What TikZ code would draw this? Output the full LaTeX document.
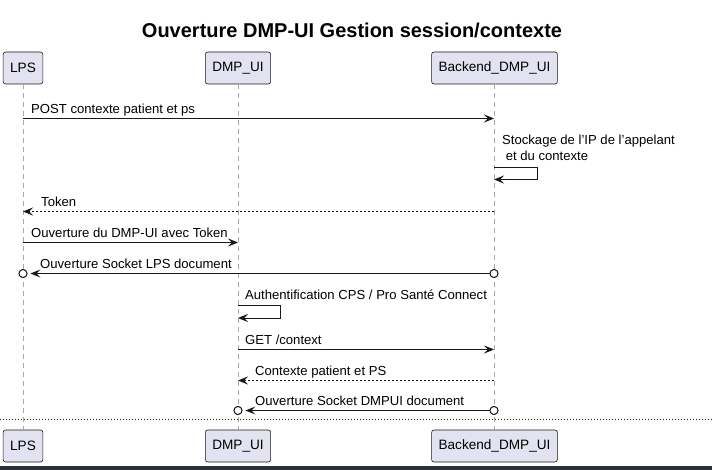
\documentclass[tikz,border=0pt]{standalone}
\usepackage{fontspec}
\setmainfont{Liberation Sans}
\usetikzlibrary{arrows.meta}
\definecolor{partfill}{HTML}{E2E2F0}
\definecolor{ink}{HTML}{181818}
\definecolor{lifegray}{HTML}{A8A8A8}
\definecolor{barcol}{HTML}{263238}
\newcommand{\sq}{{\char39}}
\tikzset{
  part/.style={draw=ink, fill=partfill, rounded corners=2.5pt, line width=0.6pt,
    minimum height=32pt, inner xsep=7pt, inner ysep=0pt,
    font=\fontsize{13.6}{16}\selectfont, text=black},
  life/.style={draw=lifegray, line width=0.8pt, dash pattern=on 5pt off 4pt},
  msg/.style={draw=ink, line width=0.9pt, -{Stealth[length=10pt,width=8pt,inset=4pt]}},
  rmsg/.style={msg, dash pattern=on 2pt off 2pt},
  lbl/.style={anchor=base west, inner sep=0pt, font=\fontsize{13.1}{15.5}\selectfont, text=black},
  sock/.style={circle, draw=ink, fill=white, line width=0.9pt, minimum size=8pt, inner sep=0pt},
  sep/.style={draw=ink, line width=1.2pt, dash pattern=on 1.3pt off 1.7pt}
}
\begin{document}
\begin{tikzpicture}[x=1pt,y=-1pt]
\useasboundingbox (0,0) rectangle (712,470);
\fill[white] (0,0) rectangle (712,470);
\fill[barcol] (0,466) rectangle (712,470);

% title
\node[font=\fontsize{20}{24}\selectfont\bfseries] (title) at (352,30) {Ouverture DMP-UI Gestion session/contexte};

% participants
\node[part] (lpsT) at (23,68) {LPS};
\node[part] (dmpT) at (238,68) {DMP\_UI};
\node[part] (beT) at (494.5,68) {Backend\_DMP\_UI};
\node[part] (lpsB) at (23,446) {LPS};
\node[part] (dmpB) at (238,446) {DMP\_UI};
\node[part] (beB) at (494.5,446) {Backend\_DMP\_UI};

% lifelines
\draw[life] (lpsT.south) -- (lpsB.north);
\draw[life] (dmpT.south) -- (dmpB.north);
\draw[life] (beT.south) -- (beB.north);

% separator
\coordinate (sepL) at (0,419.5);
\coordinate (sepR) at (712,419.5);
\draw[sep] (sepL) -- (sepR);

% 1 POST
\coordinate (m1a) at (23,118.5);
\coordinate (m1b) at (494,118.5);
\draw[msg] (m1a) -- (m1b);
\node[lbl] (t1) at (31,114) {POST contexte patient et ps};

% 2 self Backend
\coordinate (m2a) at (494,167);
\coordinate (m2b) at (537,167);
\coordinate (m2c) at (537,179.5);
\coordinate (m2d) at (494,179.5);
\draw[msg] (m2a) -- (m2b) -- (m2c) -- (m2d);
\node[lbl] (t2a) at (502,145) {Stockage de l\sq IP de l\sq appelant};
\node[lbl] (t2b) at (502,161) {\ et du contexte};

% 3 Token
\coordinate (m3a) at (494,211.5);
\coordinate (m3b) at (23,211.5);
\draw[rmsg] (m3a) -- (m3b);
\node[lbl] (t3) at (41,206.5) {Token};

% 4 Ouverture DMP-UI
\coordinate (m4a) at (23,242.5);
\coordinate (m4b) at (238,242.5);
\draw[msg] (m4a) -- (m4b);
\node[lbl] (t4) at (31,237.5) {Ouverture du DMP-UI avec Token};

% 5 Socket LPS
\node[sock] (s5a) at (494,273.5) {};
\node[sock] (s5b) at (23,273.5) {};
\draw[msg, shorten >=3pt] (s5a.west) -- (s5b.east);
\node[sock] at (494,273.5) {};
\node[sock] at (23,273.5) {};
\node[lbl] (t5) at (40,268.5) {Ouverture Socket LPS document};

% 6 self DMP_UI
\coordinate (m6a) at (238,305.5);
\coordinate (m6b) at (280,305.5);
\coordinate (m6c) at (280,318);
\coordinate (m6d) at (238,318);
\draw[msg] (m6a) -- (m6b) -- (m6c) -- (m6d);
\node[lbl] (t6) at (245,300) {Authentification CPS / Pro Santé Connect};

% 7 GET
\coordinate (m7a) at (238,349.5);
\coordinate (m7b) at (494,349.5);
\draw[msg] (m7a) -- (m7b);
\node[lbl] (t7) at (245,344.5) {GET /context};

% 8 Contexte
\coordinate (m8a) at (494,380.5);
\coordinate (m8b) at (238,380.5);
\draw[rmsg] (m8a) -- (m8b);
\node[lbl] (t8) at (255,375.5) {Contexte patient et PS};

% 9 Socket DMPUI
\node[sock] (s9a) at (494,410.5) {};
\node[sock] (s9b) at (238,410.5) {};
\draw[msg, shorten >=3pt] (s9a.west) -- (s9b.east);
\node[sock] at (494,410.5) {};
\node[sock] at (238,410.5) {};
\node[lbl] (t9) at (255,405.5) {Ouverture Socket DMPUI document};
\end{tikzpicture}
\end{document}
